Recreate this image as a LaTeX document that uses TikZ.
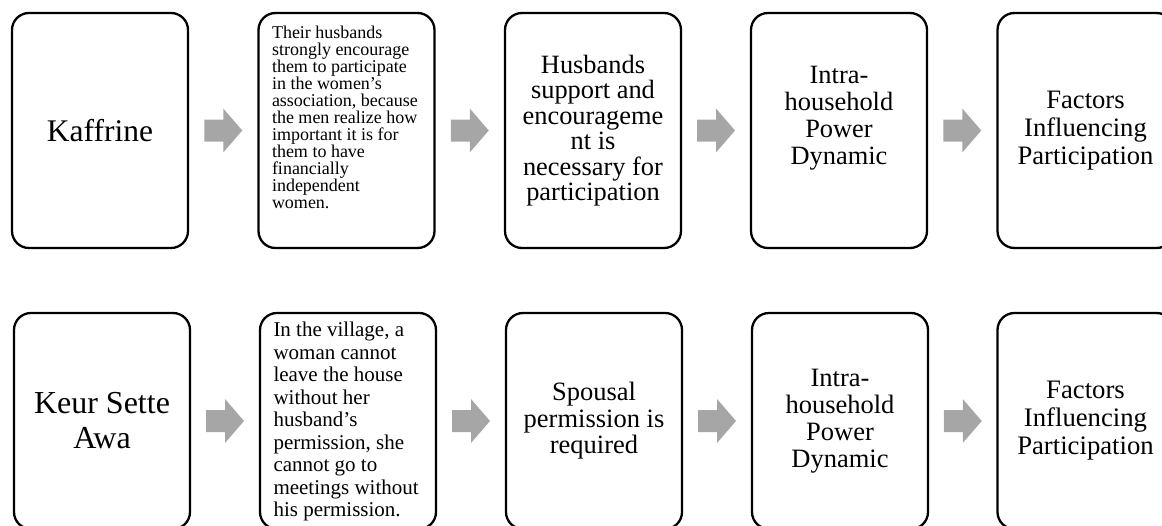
\documentclass[tikz,border=0pt]{standalone}
\usepackage{fontspec}
\setmainfont{Liberation Serif}
\usetikzlibrary{calc}
\definecolor{arrowgray}{RGB}{166,166,166}
\tikzset{
  box/.style={draw=black, line width=2.3pt, rounded corners=17pt, minimum width=176pt,
    inner sep=0pt, align=center},
  toprow/.style={minimum height=235pt},
  botrow/.style={minimum height=216pt},
  blockarrow/.pic={\fill[arrowgray] (-19,-11) -- (0,-11) -- (0,-22) -- (19,0) -- (0,22) -- (0,11) -- (-19,11) -- cycle;}
}
\begin{document}
\begin{tikzpicture}[x=1pt,y=-1pt]
\useasboundingbox (0,0) rectangle (1162,525);
\clip (0,0) rectangle (1162,525);
% top row
\node[box,toprow,font=\fontsize{31.5}{34}\selectfont] (t1) at (100,130.5) {Kaffrine};
\node[box,toprow] (t2) at (346.5,130.5) {\parbox[c][235pt][t]{149pt}{\fontsize{18}{17}\selectfont\raggedright\vspace*{13pt}Their husbands\\ strongly encourage\\ them to participate\\ in the women’s\\ association, because\\ the men realize how\\ important it is for\\ them to have\\ financially\\ independent\\ women.}};
\node[box,toprow,font=\fontsize{26.4}{25.5}\selectfont] (t3) at (593,130.5) {Husbands\\ support and\\ encourageme\\ nt is\\ necessary for\\ participation};
\node[box,toprow,font=\fontsize{26.4}{27}\selectfont] (t4) at (839,130.5) {Intra-\\ household\\ Power\\ Dynamic\\ \rule[-3pt]{0pt}{1pt}};
\node[box,toprow,font=\fontsize{26.6}{28}\selectfont] (t5) at (1085.5,130.5) {Factors\\ Influencing\\ Participation};
% bottom row
\node[box,botrow,font=\fontsize{32}{35}\selectfont] (b1) at (102,421) {Keur Sette\\ Awa};
\node[box,botrow] (b2) at (348,421) {\parbox[c][216pt][t]{149pt}{\fontsize{21}{22.5}\selectfont\raggedright\vspace*{9pt}In the village, a\\ woman cannot\\ leave the house\\ without her\\ husband’s\\ permission, she\\ cannot go to\\ meetings without\\ his permission.}};
\node[box,botrow,font=\fontsize{26.5}{26.5}\selectfont] (b3) at (594,421) {Spousal\\ permission is\\ required};
\node[box,botrow,font=\fontsize{26.5}{27}\selectfont] (b4) at (840,421) {Intra-\\ household\\ Power\\ Dynamic};
\node[box,botrow,font=\fontsize{26.7}{28}\selectfont] (b5) at (1085.5,421) {Factors\\ Influencing\\ Participation};
% arrows
\foreach \a/\b in {t1/t2,t2/t3,t3/t4,t4/t5,b1/b2,b2/b3,b3/b4,b4/b5}
  \pic at ($(\a.east)!0.5!(\b.west)$) {blockarrow};
\end{tikzpicture}
\end{document}
